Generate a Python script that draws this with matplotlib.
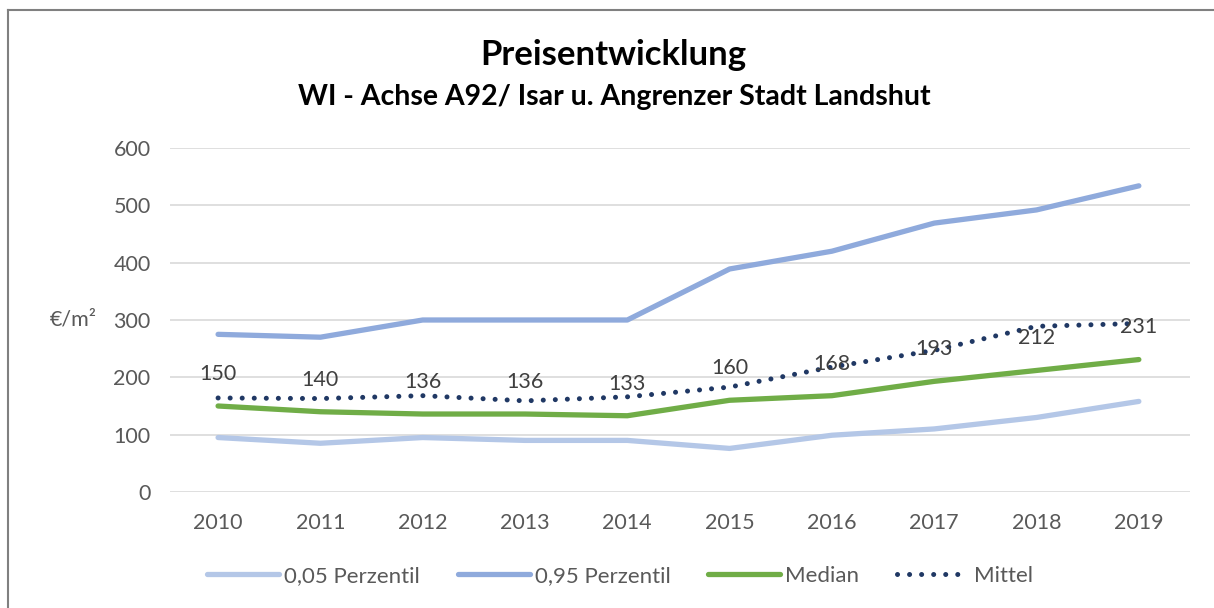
import numpy as np
import matplotlib
matplotlib.use('Agg')
import matplotlib.pyplot as plt
from matplotlib.lines import Line2D

plt.rcParams['font.family'] = ['Lato', 'DejaVu Sans']

years = ['2010', '2011', '2012', '2013', '2014', '2015', '2016', '2017', '2018', '2019']
p05 = [95, 85, 95, 90, 90, 76, 99, 110, 130, 158]
p95 = [275, 270, 300, 300, 300, 389, 420, 469, 492, 534]
median = [150, 140, 136, 136, 133, 160, 168, 193, 212, 231]
mittel = [164, 163, 168, 159, 166, 183, 218, 247, 289, 294]
labels = ['0,05 Perzentil', '0,95 Perzentil', 'Median', 'Mittel']

grey = '#595959'
W, H = 1214, 608
fig = plt.figure(figsize=(W / 100, H / 100), dpi=100)
ax = fig.add_axes([170 / W, 1 - 492 / H, (1190 - 170) / W, (492 - 148) / H])

x = np.arange(len(years))
l1, = ax.plot(x, p05, color='#B4C7E7', lw=3.8, solid_capstyle='round', zorder=3)
l2, = ax.plot(x, p95, color='#8FAADC', lw=3.8, solid_capstyle='round', zorder=3)
l3, = ax.plot(x, median, color='#70AD47', lw=3.8, solid_capstyle='round', zorder=3)
l4, = ax.plot(x, mittel, color='#203864', lw=3.6, linestyle=(0, (0.01, 2.4)),
              dash_capstyle='round', zorder=4)

for xi, v in zip(x, median):
    ax.text(xi, v + 56, str(v), ha='center', va='center', fontsize=15.5,
            color='#404040', zorder=5)

ax.set_xlim(-0.47, 9.5)
ax.set_ylim(0, 600)
ax.set_yticks(range(0, 601, 100))
ax.set_xticks(x)
ax.set_xticklabels(years)
ax.grid(axis='y', color='#D9D9D9', lw=1.2)
ax.set_axisbelow(True)
for s in ax.spines.values():
    s.set_visible(False)
ax.tick_params(length=0, labelsize=15.5, colors=grey, pad=14)
ax.tick_params(axis='x', pad=15)
ax.set_ylabel('€/m²', rotation=0, fontsize=15.5, color=grey, va='center', ha='center')
ax.yaxis.set_label_coords((73 - 170) / (1190 - 170), 300 / 600)

fig.text(613 / W, 1 - 55 / H, 'Preisentwicklung', ha='center', va='center',
         fontsize=25, fontweight='bold', color='black')
fig.text(614 / W, 1 - 97 / H, 'WI - Achse A92/ Isar u. Angrenzer Stadt Landshut',
         ha='center', va='center', fontsize=20.5, fontweight='bold', color='black')

handles = [l1, l2, l3, l4]
fig.legend(handles, labels, loc='center', bbox_to_anchor=(620 / W, 1 - 576 / H),
           ncol=4, frameon=False, fontsize=16, labelcolor=grey, handlelength=3.25,
           columnspacing=1.7, handletextpad=0.22)

# outer chart frame (extends beyond the image on right and bottom)
fig.add_artist(Line2D([8 / W, 8 / W], [0, 1 - 10 / H], transform=fig.transFigure,
                      color='#808080', lw=1.5))
fig.add_artist(Line2D([8 / W, 1], [1 - 10 / H, 1 - 10 / H], transform=fig.transFigure,
                      color='#808080', lw=1.5))

fig.savefig('out.png', dpi=100)
